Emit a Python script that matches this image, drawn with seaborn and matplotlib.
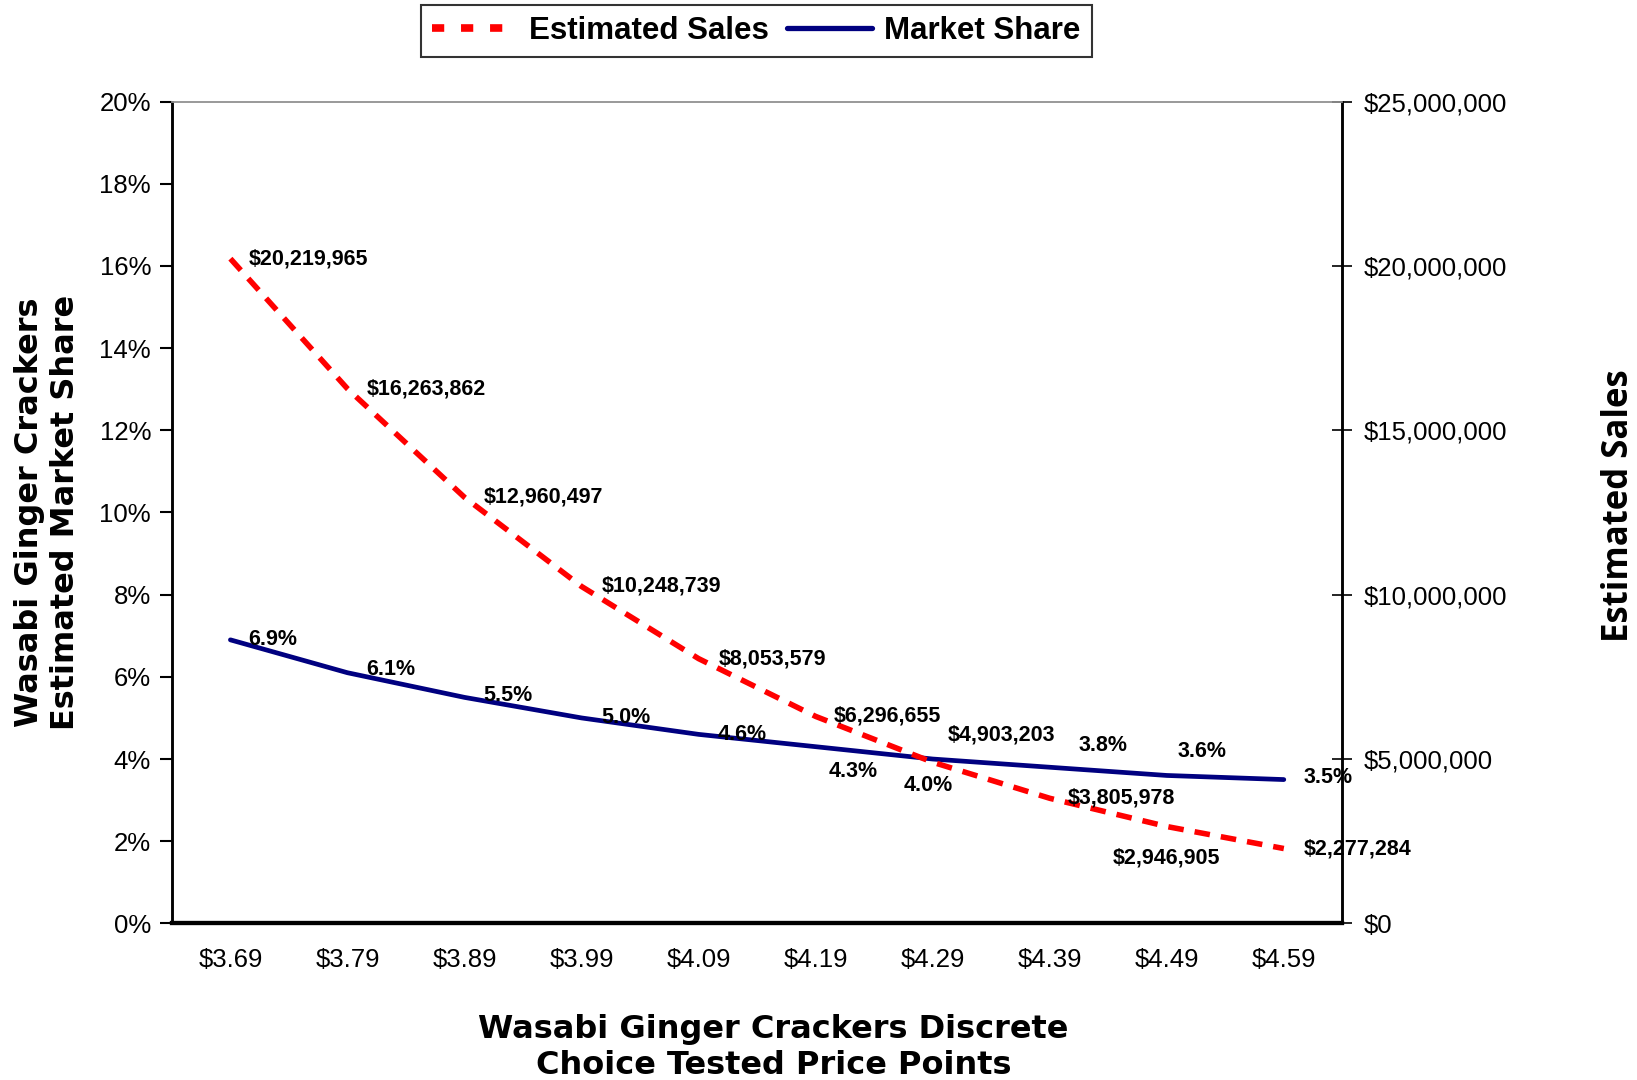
import pandas as pd
import matplotlib
matplotlib.use("Agg")
import matplotlib.pyplot as plt
from matplotlib.ticker import FuncFormatter, FixedLocator
from matplotlib.lines import Line2D
import seaborn as sns
import numpy as np

# ---------------- datos ----------------
prices = ["$3.69", "$3.79", "$3.89", "$3.99", "$4.09",
          "$4.19", "$4.29", "$4.39", "$4.49", "$4.59"]
market_share = [6.9, 6.1, 5.5, 5.0, 4.6, 4.3, 4.0, 3.8, 3.6, 3.5]
estimated_sales = [20219965, 16263862, 12960497, 10248739, 8053579,
                   6296655, 4903203, 3805978, 2946905, 2277284]

# desplazamiento de etiquetas (pixeles) y alineacion
sales_offsets = [(18, 0, "left"), (19, 0, "left"), (19, 0, "left"), (20, 0, "left"),
                 (20, 0, "left"), (18, 0, "left"), (15, 27, "left"), (18, 0, "left"),
                 (0, -31, "center"), (20, 0, "left")]
share_offsets = [(18, 0, "left"), (19, 3, "left"), (19, 2, "left"), (20, 0, "left"),
                 (19, 0, "left"), (38, -25, "center"), (-4, -26, "center"),
                 (53, 22, "center"), (35, 24, "center"), (20, 2, "left")]

df = pd.DataFrame({"price": prices, "share": market_share, "sales": estimated_sales})

sns.set_style("white")
plt.rcParams["font.family"] = ["Liberation Sans", "DejaVu Sans"]
plt.rcParams["text.color"] = "black"
plt.rcParams["axes.labelcolor"] = "black"
plt.rcParams["xtick.color"] = "black"
plt.rcParams["ytick.color"] = "black"

fig = plt.figure(figsize=(16.37, 10.8), dpi=100)
ax = fig.add_axes([0.105, 0.145, 0.715, 0.761])
ax2 = ax.twinx()

RED = "#ff0000"
NAVY = "#000080"

sns.lineplot(data=df, x="price", y="share", ax=ax, color=NAVY, linewidth=3.4,
             sort=False, solid_capstyle="round")
sns.lineplot(data=df, x="price", y="sales", ax=ax2, color=RED, linewidth=4.0,
             sort=False)
ax2.lines[0].set_dashes((2.8, 2.0))
ax2.lines[0].set_dash_capstyle("butt")

n = len(prices)
ax.set_xlim(-0.5, n - 0.5)
ax.set_ylim(0, 20)
ax2.set_ylim(0, 25000000)

# ejes
ax.yaxis.set_major_locator(FixedLocator(np.arange(0, 21, 2)))
ax.yaxis.set_major_formatter(FuncFormatter(lambda v, p: f"{v:.0f}%"))
ax2.yaxis.set_major_locator(FixedLocator(np.arange(0, 25000001, 5000000)))
ax2.yaxis.set_major_formatter(FuncFormatter(lambda v, p: f"${v:,.0f}"))

ax.set_xticks(range(n))
ax.set_xticklabels(prices)
ax.xaxis.set_minor_locator(FixedLocator(np.arange(-0.5, n, 1)))
ax.tick_params(axis="x", which="major", length=0, pad=18, labelsize=18.5)
ax.tick_params(axis="x", which="minor", length=9, width=1.5, direction="out", color="black")
ax.tick_params(axis="y", length=9, width=1.5, direction="out", color="black",
               labelsize=18.5, left=True, pad=6)
ax2.tick_params(axis="y", length=14, width=1.2, direction="inout", color="black",
                labelsize=18.5, right=True, pad=8)

for a in (ax, ax2):
    a.spines["left"].set_color("black")
    a.spines["left"].set_linewidth(1.8)
    a.spines["right"].set_color("black")
    a.spines["right"].set_linewidth(1.8)
    a.spines["bottom"].set_color("black")
    a.spines["bottom"].set_linewidth(3)
    a.spines["top"].set_color("#999999")
    a.spines["top"].set_linewidth(1.2)

ax.set_xlabel("Wasabi Ginger Crackers Discrete\nChoice Tested Price Points",
              fontsize=23, fontweight="bold", family="DejaVu Sans", linespacing=1.22)
ax.xaxis.set_label_coords(0.514, -0.11)
ax.set_ylabel("Wasabi Ginger Crackers\nEstimated Market Share",
              fontsize=23, fontweight="bold", family="DejaVu Sans", linespacing=1.2)
ax.yaxis.set_label_coords(-0.078, 0.5)
ax2.set_ylabel("Estimated Sales", fontsize=25, fontweight="bold", family="Open Sans")
ax2.yaxis.set_label_coords(1.221, 0.508)

# etiquetas de datos
for i in range(n):
    dx, dy, ha = sales_offsets[i]
    ax2.annotate(f"${estimated_sales[i]:,}", (i, estimated_sales[i]), xytext=(dx, dy),
                 textcoords="offset pixels", ha=ha, va="center",
                 fontsize=15.5, fontweight="bold", color="black")
    dx, dy, ha = share_offsets[i]
    ax2.annotate(f"{market_share[i]:.1f}%", (i, market_share[i] * 1250000), xytext=(dx, dy),
                 textcoords="offset pixels", ha=ha, va="center",
                 fontsize=15.5, fontweight="bold", color="black")

handles = [Line2D([0], [0], color=RED, linewidth=5.5, dashes=(1.6, 2.2), dash_capstyle="butt"),
           Line2D([0], [0], color=NAVY, linewidth=3.8, solid_capstyle="round")]
leg = fig.legend(handles, ["Estimated Sales", "Market Share"], loc="center",
                 bbox_to_anchor=(0.462, 0.971), ncol=2, frameon=True, fancybox=False,
                 edgecolor="black", prop={"weight": "bold", "size": 22.5},
                 handlelength=2.7, columnspacing=0.6, handletextpad=0.4,
                 borderpad=0.35)
leg.get_frame().set_linewidth(1.5)

fig.savefig("out.png", dpi=100, facecolor="white")
